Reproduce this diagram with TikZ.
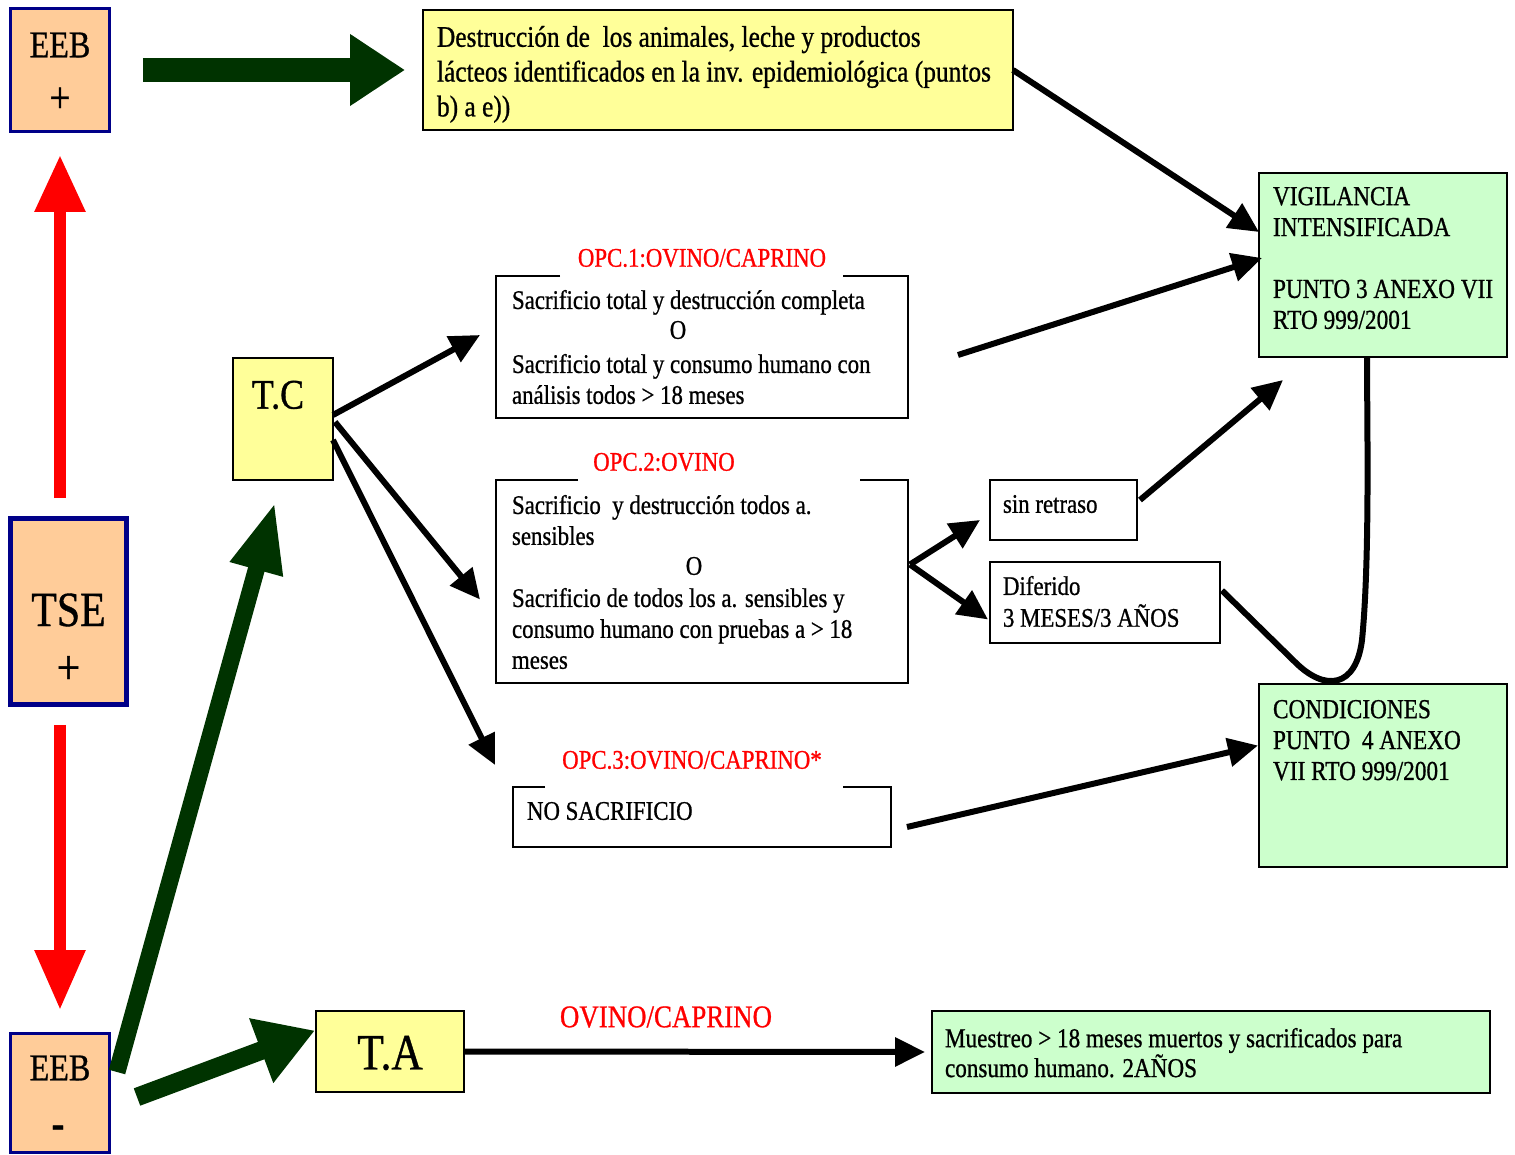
\documentclass[tikz,border=0pt]{standalone}
\usepackage{fontspec}
\setmainfont{Liberation Serif}[FakeStretch=0.85,FakeBold=0.8]
\usetikzlibrary{arrows.meta,calc}
\definecolor{peach}{HTML}{FFCC99}
\definecolor{navyb}{HTML}{000088}
\definecolor{lyellow}{HTML}{FFFF99}
\definecolor{lgreen}{HTML}{CCFFCC}
\definecolor{dgreen}{HTML}{003300}
\newcommand\szf[2]{\fontsize{#1}{#2}\selectfont}
\begin{document}
\begin{tikzpicture}[x=0.02cm,y=-0.02cm,
  every node/.style={inner sep=0pt, outer sep=0pt},
  eebbox/.style={draw=navyb, fill=peach, line width=0.06cm},
  tsebox/.style={draw=navyb, fill=peach, line width=0.1cm},
  ybox/.style={draw=black, fill=lyellow, line width=0.03cm},
  gbox/.style={draw=black, fill=lgreen, line width=0.03cm},
  wbox/.style={draw=black, line width=0.03cm},
  wline/.style={draw=black, line width=0.03cm},
  txt/.style={anchor=north west, align=left, font=\szf{15.3pt}{17.6pt}},
  redlbl/.style={text=red, font=\szf{15.3pt}{18pt}},
  blk/.style={line width=0.12cm, -{Triangle[length=0.6cm,width=0.56cm]}},
  blkline/.style={line width=0.12cm},
]
\useasboundingbox (0,0) rectangle (1515,1155);

% --- left column boxes ---
\node[eebbox, minimum width=2cm, minimum height=2.48cm] (eebp) at (60,70) {};
\node[font=\szf{21.5pt}{24pt}] (eebpt) at (60,45) {EEB};
\node[font=\szf{25pt}{26pt}] (eebpp) at (60,100) {+};

\node[tsebox, minimum width=2.34cm, minimum height=3.74cm] (tse) at (68.5,611.5) {};
\node[font=\szf{28pt}{30pt}] (tset) at (68.5,610) {TSE};
\node[font=\szf{28pt}{30pt}] (tsep) at (68.5,670) {+};

\node[eebbox, minimum width=2cm, minimum height=2.4cm] (eebm) at (60,1093) {};
\node[font=\szf{21.5pt}{24pt}] (eebmt) at (60,1068) {EEB};
\node[font=\bfseries\szf{26pt}{26pt}] (eebmm) at (58,1132) {-};

% --- top yellow box ---
\node[ybox, minimum width=11.8cm, minimum height=2.4cm] (dest) at (718,70) {};
\node[txt, font=\szf{17pt}{19.8pt}] (destt) at (437,26) {Destrucción de\ \ los animales, leche y productos\\lácteos identificados en la inv. epidemiológica (puntos\\b) a e))};

% --- T.C and T.A ---
\node[ybox, minimum width=2cm, minimum height=2.44cm] (tc) at (283,419) {};
\node[font=\szf{24pt}{26pt}] (tct) at (278,395) {T.C};
\node[ybox, minimum width=2.96cm, minimum height=1.62cm] (ta) at (390,1051.5) {};
\node[font=\szf{29pt}{31pt}] (tat) at (390,1053) {T.A};

% --- OPC 1 ---
\node[minimum width=8.24cm, minimum height=2.84cm] (opc1) at (702,347) {};
\draw[wline] ($(opc1.north west)+(64,0)$) -- (opc1.north west) -- (opc1.south west) -- (opc1.south east) -- (opc1.north east) -- ($(opc1.north east)+(-65,0)$);
\node[redlbl] (opc1l) at (702,258) {OPC.1:OVINO/CAPRINO};
\node[txt] (opc1a) at (512,290) {Sacrificio total y destrucción completa};
\node[font=\szf{15.3pt}{17.6pt}] (opc1o) at (678,330) {O};
\node[txt] (opc1b) at (512,354) {Sacrificio total y consumo humano con\\análisis todos > 18 meses};

% --- OPC 2 ---
\node[minimum width=8.24cm, minimum height=4.06cm] (opc2) at (702,581.5) {};
\draw[wline] ($(opc2.north west)+(82,0)$) -- (opc2.north west) -- (opc2.south west) -- (opc2.south east) -- (opc2.north east) -- ($(opc2.north east)+(-48,0)$);
\node[redlbl] (opc2l) at (664,462) {OPC.2:OVINO};
\node[txt] (opc2a) at (512,495) {Sacrificio\ \ y destrucción todos a.\\sensibles};
\node[font=\szf{15.3pt}{17.6pt}] (opc2o) at (694,566) {O};
\node[txt] (opc2b) at (512,588) {Sacrificio de todos los a. sensibles y\\consumo humano con pruebas a > 18\\meses};

% --- OPC 3 ---
\node[minimum width=7.56cm, minimum height=1.2cm] (opc3) at (702,817) {};
\draw[wline] ($(opc3.north west)+(32,0)$) -- (opc3.north west) -- (opc3.south west) -- (opc3.south east) -- (opc3.north east) -- ($(opc3.north east)+(-48,0)$);
\node[redlbl] (opc3l) at (692,760) {OPC.3:OVINO/CAPRINO*};
\node[txt] (opc3t) at (527,802) {NO SACRIFICIO};

% --- sin retraso / diferido ---
\node[wbox, minimum width=2.94cm, minimum height=1.2cm] (sinr) at (1063.5,510) {};
\node[txt] (sinrt) at (1003,495) {sin retraso};
\node[wbox, minimum width=4.6cm, minimum height=1.62cm] (dif) at (1105,602.5) {};
\node[txt, font=\szf{15.3pt}{18.1pt}] (dift) at (1003,576) {Diferido\\3 MESES/3 AÑOS};

% --- right green boxes ---
\node[gbox, minimum width=4.96cm, minimum height=3.68cm] (vig) at (1383,265) {};
\node[txt, font=\szf{15.6pt}{17.6pt}] (vigt) at (1273,187) {VIGILANCIA\\INTENSIFICADA\\[17.6pt]PUNTO 3 ANEXO VII\\RTO 999/2001};
\node[gbox, minimum width=4.96cm, minimum height=3.66cm] (cond) at (1383,775.5) {};
\node[txt, font=\szf{15.6pt}{17.6pt}] (condt) at (1273,700) {CONDICIONES\\PUNTO\ \ 4 ANEXO\\VII RTO 999/2001};

% --- bottom green box ---
\node[gbox, minimum width=11.16cm, minimum height=1.64cm] (mues) at (1211,1052) {};
\node[txt, font=\szf{15.5pt}{17pt}] (muest) at (945,1028) {Muestreo > 18 meses muertos y sacrificados para\\consumo humano. 2AÑOS};
\node[redlbl, font=\szf{18pt}{20pt}] (tal) at (666,1017) {OVINO/CAPRINO};

% --- green arrows ---
\draw[dgreen, line width=0.48cm, -{Triangle[length=1.1cm,width=1.36cm]}] ($(eebp.east)+(33,0)$) -- ($(dest.west)+(-18,0)$);
\draw[dgreen, line width=0.34cm, -{Triangle[length=1.4cm,width=1.0cm]}] ($(eebm.east)+(7,-21)$) -- ($(tc.south)+(-8,22)$);
\draw[dgreen, line width=0.37cm, -{Triangle[length=1.15cm,width=1.3cm]}] ($(eebm.east)+(27,4)$) -- ($(ta.west)+(-1,-21)$);

% --- red arrows ---
\draw[red, line width=0.24cm, -{Triangle[length=1.14cm,width=0.96cm]}] ($(tse.north)+(-8.5,-20)$) -- ($(eebp.south)+(0,23)$);
\draw[red, line width=0.24cm, -{Triangle[length=1.2cm,width=0.96cm]}] ($(tse.south)+(-8.5,20)$) -- ($(eebm.north)+(0,-23)$);

% --- black connectors ---
\draw[blk] (dest.east) -- ($(vig.west)+(0,-33)$);
\draw[blk] ($(opc1.east)+(50,8)$) -- ($(vig.west)+(3,-7)$);
\draw[blk] ($(sinr.east)+(3,-10)$) -- ($(vig.south west)+(24,23)$);
\draw[blkline] ($(dif.east)+(2,-12)$) -- (1295,662) .. controls (1325,692) and (1356,688) .. (1362,640) .. controls (1370,560) and (1367,420) .. ($(vig.south)+(-16,0)$);
\draw[blk] ($(opc3.east)+(16,10)$) -- ($(cond.west)+(-1,-30)$);
\draw[blk] ($(tc.east)+(0,-4)$) -- ($(opc1.west)+(-16,-12)$);
\draw[blk] ($(tc.east)+(2,3)$) -- ($(opc2.west)+(-16,18)$);
\draw[blk] ($(tc.east)+(0,21)$) -- ($(opc3.west)+(-18,-52)$);
\draw[blk] ($(opc2.east)+(2,-17)$) -- ($(sinr.west)+(-10,10)$);
\draw[blk] ($(opc2.east)+(2,-17)$) -- ($(dif.west)+(-2,17)$);
\draw[blk] (ta.east) -- ($(mues.west)+(-7,0)$);
\end{tikzpicture}
\end{document}
